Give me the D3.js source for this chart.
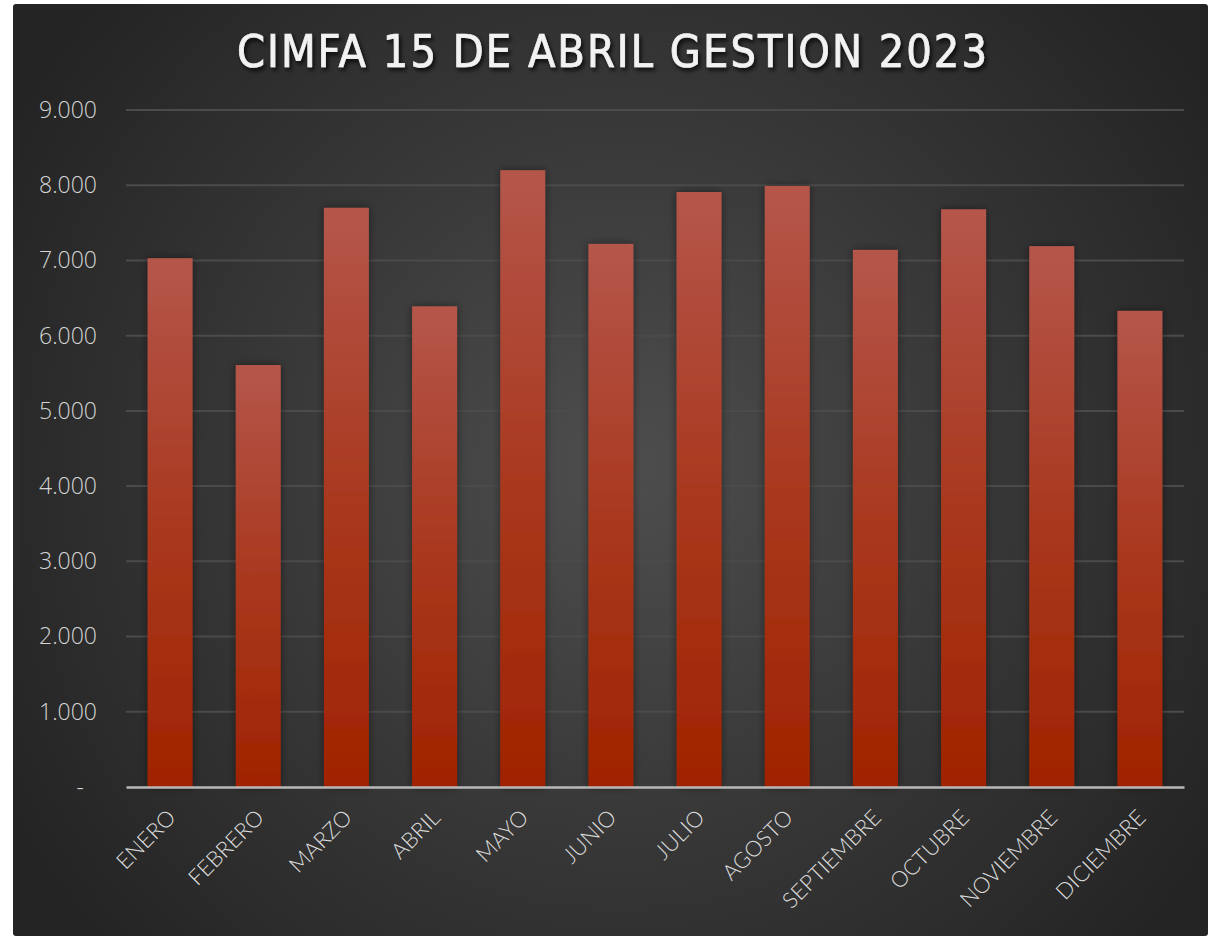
<!DOCTYPE html>
<html><head><meta charset="utf-8">
<script src="https://cdn.jsdelivr.net/npm/d3@7"></script>
<style>html,body{margin:0;padding:0;background:#fff;}svg{display:block;}</style>
</head><body>
<svg id="c" width="1209" height="937"></svg>
<script>
const categories = ["ENERO","FEBRERO","MARZO","ABRIL","MAYO","JUNIO","JULIO","AGOSTO","SEPTIEMBRE","OCTUBRE","NOVIEMBRE","DICIEMBRE"];
const values = [7030, 5610, 7700, 6390, 8200, 7220, 7910, 7990, 7140, 7680, 7190, 6330];
const yTicks = [0,1000,2000,3000,4000,5000,6000,7000,8000,9000];
const title = "CIMFA 15 DE ABRIL GESTION 2023";

const svg = d3.select("#c");
const defs = svg.append("defs");
const bg = defs.append("radialGradient").attr("id","bg").attr("gradientUnits","userSpaceOnUse")
  .attr("cx",620).attr("cy",470).attr("r",700);
bg.append("stop").attr("offset","0").attr("stop-color","#4e4e4e");
bg.append("stop").attr("offset","0.55").attr("stop-color","#363636");
bg.append("stop").attr("offset","1").attr("stop-color","#242424");
const bar = defs.append("linearGradient").attr("id","bar").attr("x1",0).attr("y1",0).attr("x2",0).attr("y2",1);
bar.append("stop").attr("offset","0").attr("stop-color","#b5564b");
bar.append("stop").attr("offset","0.5").attr("stop-color","#a9391f");
bar.append("stop").attr("offset","1").attr("stop-color","#a02300");
const sh = defs.append("filter").attr("id","sh").attr("x","-30%").attr("y","-10%").attr("width","160%").attr("height","120%");
sh.append("feDropShadow").attr("dx",0).attr("dy",0).attr("stdDeviation",4).attr("flood-color","#000").attr("flood-opacity",0.45);
const tsh = defs.append("filter").attr("id","tsh").attr("x","-10%").attr("y","-30%").attr("width","120%").attr("height","160%");
tsh.append("feDropShadow").attr("dx",2).attr("dy",3).attr("stdDeviation",2).attr("flood-color","#000").attr("flood-opacity",0.8);

svg.append("rect").attr("x",13).attr("y",4).attr("width",1195).attr("height",932).attr("rx",3).attr("fill","url(#bg)");

const x = d3.scaleBand().domain(categories).range([126,1184]).paddingInner(0.49).paddingOuter(0.245);
const y = d3.scaleLinear().domain([0,9000]).range([787,110]);

// grid
svg.append("g").selectAll("line").data(yTicks.filter(d=>d>0)).join("line")
  .attr("x1",126).attr("x2",1184).attr("y1",d=>y(d)).attr("y2",d=>y(d))
  .attr("stroke","#4b4b4b").attr("stroke-width",2);

// y axis
const yAxis = d3.axisLeft(y).tickValues(yTicks).tickSize(0).tickPadding(0)
  .tickFormat(d=> d===0 ? "-" : d3.format(",")(d).replace(/,/g,"."));
const gy = svg.append("g").attr("transform","translate(97,0)").call(yAxis);
gy.select(".domain").remove();
gy.selectAll("text").attr("fill","#d4d4d4").attr("font-family","'Open Sans', sans-serif").attr("font-size",23).attr("font-weight",300);
gy.selectAll(".tick").filter(d=>d===0).select("text").attr("dx",-13);

// bars
svg.append("g").selectAll("rect").data(values).join("rect")
  .attr("x",(d,i)=>x(categories[i])).attr("width",x.bandwidth())
  .attr("y",d=>y(d)).attr("height",d=>y(0)-y(d))
  .attr("fill","url(#bar)").attr("filter","url(#sh)");

// x axis
const xAxis = d3.axisBottom(x).tickSize(0).tickPadding(0);
const gx = svg.append("g").attr("transform","translate(0,787)").call(xAxis);
gx.select(".domain").attr("stroke","#b9b9b9").attr("stroke-width",2.5);
gx.selectAll("text").attr("fill","#dcdcdc").attr("font-family","Lato, 'Open Sans', sans-serif").attr("font-size",22).attr("font-weight",300)
  .attr("text-anchor","end").attr("dy",0).attr("transform","translate(7,32) rotate(-45)");

// title
svg.append("text").attr("x",613).attr("y",67).attr("text-anchor","middle")
  .attr("fill","#f2f2f2").attr("stroke","#f2f2f2").attr("stroke-width",0.7)
  .attr("font-family","'DejaVu Sans Condensed', 'DejaVu Sans', sans-serif").attr("font-weight","normal")
  .attr("font-size",44).attr("letter-spacing",2).attr("textLength",752).attr("lengthAdjust","spacingAndGlyphs")
  .attr("filter","url(#tsh)").text(title);
</script>
</body></html>
